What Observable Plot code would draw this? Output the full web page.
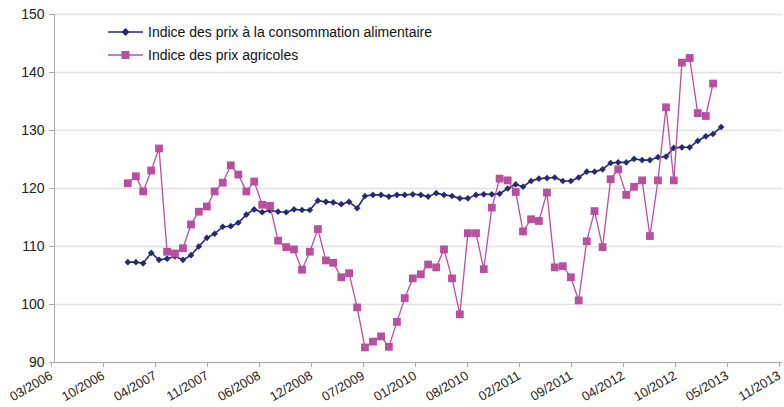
<!DOCTYPE html>
<html><head><meta charset="utf-8">
<script src="https://cdn.jsdelivr.net/npm/d3@7"></script>
<script src="https://cdn.jsdelivr.net/npm/@observablehq/plot@0.6"></script>
<style>
body{margin:0;background:#fff;font-family:"Liberation Sans",Arial,sans-serif;}
#wrap{position:relative;width:784px;height:407px;}
.legend{position:absolute;left:108px;top:20px;font-size:14px;color:#111;}
.legend .row{display:flex;align-items:center;height:23px;}
.legend svg{margin-right:4px;}
</style></head><body><div id="wrap"></div>
<script>
// First month of both series
const startMonth = "2007-01-01";
// Indice des prix à la consommation alimentaire (monthly, 01/2007 – 04/2013)
const consumerIndex = [
  107.3,107.3,107.1,108.9,107.7,107.9,108.3,107.7,108.5,110.0,111.5,112.2,
  113.4,113.5,114.1,115.5,116.4,115.9,116.2,116.0,115.9,116.4,116.3,116.3,
  117.9,117.7,117.6,117.3,117.7,116.6,118.7,118.9,118.9,118.6,118.9,118.9,
  119.0,118.9,118.6,119.2,118.9,118.7,118.3,118.3,118.9,119.0,119.0,119.1,
  120.0,120.7,120.3,121.3,121.7,121.8,121.9,121.3,121.3,121.9,122.9,122.9,
  123.3,124.4,124.5,124.5,125.1,124.9,124.9,125.4,125.5,127.0,127.1,127.1,
  128.2,129.0,129.4,130.6
];
// Indice des prix agricoles (monthly, 01/2007 – 03/2013)
const agriIndex = [
  120.9,122.1,119.5,123.1,126.9,109.1,108.8,109.7,113.8,116.0,116.9,119.5,
  121.0,124.0,122.4,119.5,121.2,117.2,117.0,111.0,109.9,109.5,106.0,109.1,
  113.0,107.6,107.2,104.7,105.4,99.5,92.6,93.6,94.5,92.7,97.0,101.1,
  104.5,105.2,106.9,106.4,109.5,104.5,98.3,112.3,112.3,106.1,116.7,121.7,
  121.4,119.4,112.6,114.7,114.4,119.3,106.4,106.6,104.7,100.7,110.9,116.1,
  109.9,121.6,123.3,118.9,120.3,121.4,111.8,121.4,134.0,121.4,141.7,142.5,
  133.0,132.5,138.1
];
const yTicks = [90,100,110,120,130,140,150];
const xTickLabels = ["03/2006","10/2006","04/2007","11/2007","06/2008","12/2008","07/2009",
  "01/2010","08/2010","02/2011","09/2011","04/2012","10/2012","05/2013","11/2013"];
const axisStart = "2006-03-25";
const tickStepDays = 200;
const seriesNames = ["Indice des prix à la consommation alimentaire","Indice des prix agricoles"];
const navy = "#262a72", pink = "#b9509f";

const m0 = new Date(startMonth + "T00:00:00Z");
const cons = consumerIndex.map((v,i)=>({date:d3.utcMonth.offset(m0,i), value:v}));
const agri = agriIndex.map((v,i)=>({date:d3.utcMonth.offset(m0,i), value:v}));
const x0 = new Date(axisStart + "T00:00:00Z");
const xTicks = xTickLabels.map((_,k)=>d3.utcDay.offset(x0, tickStepDays*k));
const labelOf = new Map(xTicks.map((d,k)=>[+d, xTickLabels[k]]));

const chart = Plot.plot({
  width:784, height:407,
  marginLeft:54, marginRight:2, marginTop:14, marginBottom:45,
  style:{fontFamily:"Liberation Sans, Arial, sans-serif", fontSize:"14px", color:"#222", background:"#fff"},
  x:{type:"utc", domain:[xTicks[0], xTicks[xTicks.length-1]]},
  y:{domain:[90,150]},
  marks:[
    Plot.gridY(yTicks, {stroke:"#e2e2e2", strokeOpacity:1, strokeWidth:1.6}),
    Plot.ruleX([xTicks[0]], {stroke:"#aaa"}),
    Plot.ruleY([90], {stroke:"#aaa"}),
    Plot.axisY(yTicks, {tickSize:5, tickPadding:5, stroke:"#aaa", fill:"#222", label:null, fontSize:14}),
    Plot.axisX(xTicks, {tickSize:5, tickPadding:7, tickRotate:-30, dx:-3, tickFormat:d=>labelOf.get(+d), stroke:"#aaa", fill:"#222", label:null, fontSize:13}),
    Plot.line(cons, {x:"date", y:"value", stroke:navy, strokeWidth:1.6}),
    Plot.dot(cons, {x:"date", y:"value", symbol:"diamond2", r:3, fill:navy, stroke:"none"}),
    Plot.line(agri, {x:"date", y:"value", stroke:pink, strokeWidth:1.3}),
    Plot.dot(agri, {x:"date", y:"value", symbol:"square", r:4.4, fill:pink, stroke:"none"})
  ]
});
const wrap = document.getElementById("wrap");
wrap.appendChild(chart);

const legend = document.createElement("div");
legend.className = "legend";
const sym = (color, kind) => kind === "diamond"
  ? `<svg width="36" height="12"><line x1="0" x2="35" y1="6" y2="6" stroke="${color}" stroke-width="1.6"/><path d="M17.5,2 L21.5,6 L17.5,10 L13.5,6 Z" fill="${color}"/></svg>`
  : `<svg width="36" height="12"><line x1="0" x2="35" y1="6" y2="6" stroke="${color}" stroke-width="1.3"/><rect x="13.5" y="2" width="8" height="8" fill="${color}"/></svg>`;
legend.innerHTML =
  `<div class="row">${sym(navy,"diamond")}<span>${seriesNames[0]}</span></div>` +
  `<div class="row">${sym(pink,"square")}<span>${seriesNames[1]}</span></div>`;
wrap.appendChild(legend);
</script></body></html>
